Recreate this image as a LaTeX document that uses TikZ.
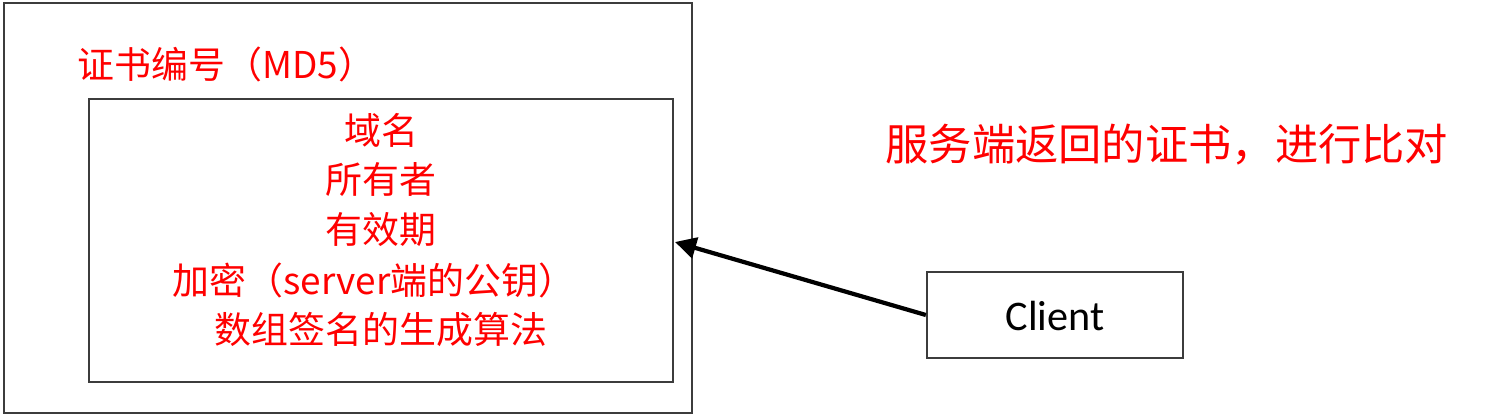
\documentclass[tikz,border=0pt]{standalone}
\usepackage{fontspec}
\newfontfamily\cjkfont{Noto Sans CJK SC}
\newfontfamily\clientfont{Carlito}
\usetikzlibrary{arrows.meta}
\definecolor{txtred}{RGB}{255,0,0}
\definecolor{boxgray}{RGB}{60,60,60}
\tikzset{
  frame/.style={draw=boxgray, line width=0.6pt, inner sep=0pt, fill=none},
  redtext/.style={text=txtred, font=\cjkfont\fontsize{10.5pt}{12pt}\selectfont, inner sep=0pt},
  bigred/.style={text=txtred, font=\cjkfont\fontsize{12.3pt}{14pt}\selectfont, inner sep=0pt},
  link/.style={line width=1.2pt, -{Triangle[length=6pt,width=6pt]}}
}
\begin{document}
\begin{tikzpicture}[x=0.01cm,y=-0.01cm]
\useasboundingbox[fill=white] (0,0) rectangle (1500,418);
\node[frame, minimum width=6.88cm, minimum height=4.10cm] (outer) at (348,208) {};
\node[frame, minimum width=5.84cm, minimum height=2.83cm] (inner) at (381,240.5) {};
\node[frame, minimum width=2.56cm, minimum height=0.86cm] (client) at (1055,315) {};
\node[anchor=center, inner sep=0pt, font=\clientfont\fontsize{12pt}{14pt}\selectfont] (clientlabel) at (1055,316) {Client};
\node[redtext, anchor=west] (serial) at (77,64) {证书编号（MD5）};
\node[bigred, anchor=west] (compare) at (885,145) {服务端返回的证书，进行比对};
\node[redtext] (l1) at (381,130) {域名};
\node[redtext] (l2) at (381,180) {所有者};
\node[redtext] (l3) at (381,230) {有效期};
\node[redtext] (l4) at (374,280) {加密（server端的公钥）};
\node[redtext] (l5) at (381,330) {数组签名的生成算法};
\coordinate (tip) at (675,242);
\draw[link] (client.west) -- (tip);
\end{tikzpicture}
\end{document}
